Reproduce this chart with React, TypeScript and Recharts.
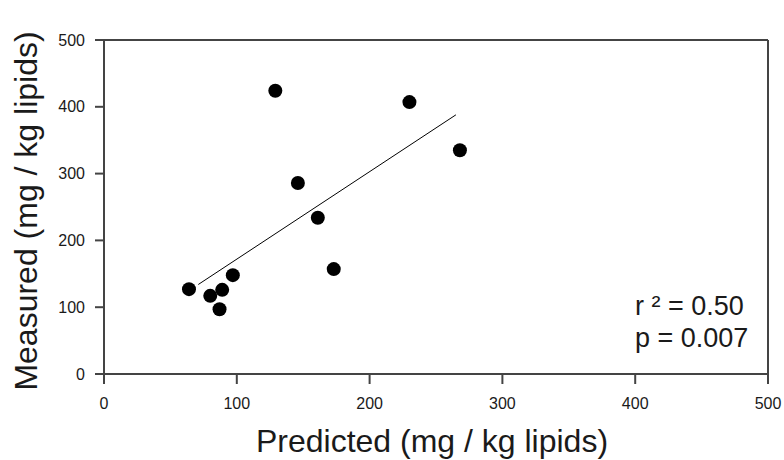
import {
  ScatterChart,
  Scatter,
  XAxis,
  YAxis,
  ReferenceLine,
} from 'recharts'

const predicted = [64, 80, 89, 87, 97, 129, 146, 161, 173, 230, 268]
const measured = [127, 117, 126, 97, 148, 424, 286, 234, 157, 407, 335]
const fitLine = [
  { x: 71, y: 134 },
  { x: 265, y: 388 },
]
const ticks = [0, 100, 200, 300, 400, 500]
const xTitle = 'Predicted (mg / kg lipids)'
const yTitle = 'Measured (mg / kg lipids)'
const stats = ['r ² = 0.50', 'p = 0.007']

const points = predicted.map((p, i) => ({ x: p, y: measured[i] }))

const font = '"Liberation Sans", Arial, sans-serif'
const frame = '#444'

const Dot = (props: any) => (
  <circle cx={props.cx} cy={props.cy} r={7} fill="#000" />
)

const XTitle = (props: any) => {
  const vb = props.viewBox
  return (
    <text
      x={vb.x + vb.width / 2 - 4}
      y={452}
      textAnchor="middle"
      fontSize={32}
      fontFamily={font}
      fill="#1a1a1a"
    >
      {xTitle}
    </text>
  )
}

const YTitle = (props: any) => {
  const vb = props.viewBox
  const cx = 37
  const cy = vb.y + vb.height / 2 + 4
  return (
    <text
      x={cx}
      y={cy}
      transform={`rotate(-90, ${cx}, ${cy})`}
      textAnchor="middle"
      fontSize={32}
      fontFamily={font}
      fill="#1a1a1a"
    >
      {yTitle}
    </text>
  )
}

export default function App() {
  return (
    <div style={{ position: 'absolute', left: 0, top: 0, width: 784, height: 460, background: '#fff' }}>
      <ScatterChart
        width={784}
        height={460}
        margin={{ top: 40, right: 16, bottom: 0, left: 0 }}
      >
        <XAxis
          type="number"
          dataKey="x"
          domain={[0, 500]}
          ticks={ticks}
          height={86}
          tickSize={10}
          tickMargin={14}
          stroke={frame}
          strokeWidth={2}
          tick={{ fontSize: 16, fontFamily: font, fill: '#1a1a1a' }}
          label={<XTitle />}
        />
        <YAxis
          type="number"
          dataKey="y"
          domain={[0, 500]}
          ticks={ticks}
          width={104}
          tickSize={9}
          tickMargin={10}
          stroke={frame}
          strokeWidth={2}
          tick={{ fontSize: 16, fontFamily: font, fill: '#1a1a1a' }}
          label={<YTitle />}
        />
        <ReferenceLine y={500} stroke={frame} strokeWidth={2} />
        <ReferenceLine x={500} stroke={frame} strokeWidth={2} />
        <ReferenceLine segment={fitLine} stroke="#000" strokeWidth={1} />
        <Scatter data={points} shape={<Dot />} isAnimationActive={false} />
      </ScatterChart>
      <div
        style={{
          position: 'absolute',
          left: 635,
          top: 290,
          fontFamily: font,
          fontSize: 27,
          lineHeight: '32px',
          color: '#1a1a1a',
        }}
      >
        {stats.map((s) => (
          <div key={s}>{s}</div>
        ))}
      </div>
    </div>
  )
}
